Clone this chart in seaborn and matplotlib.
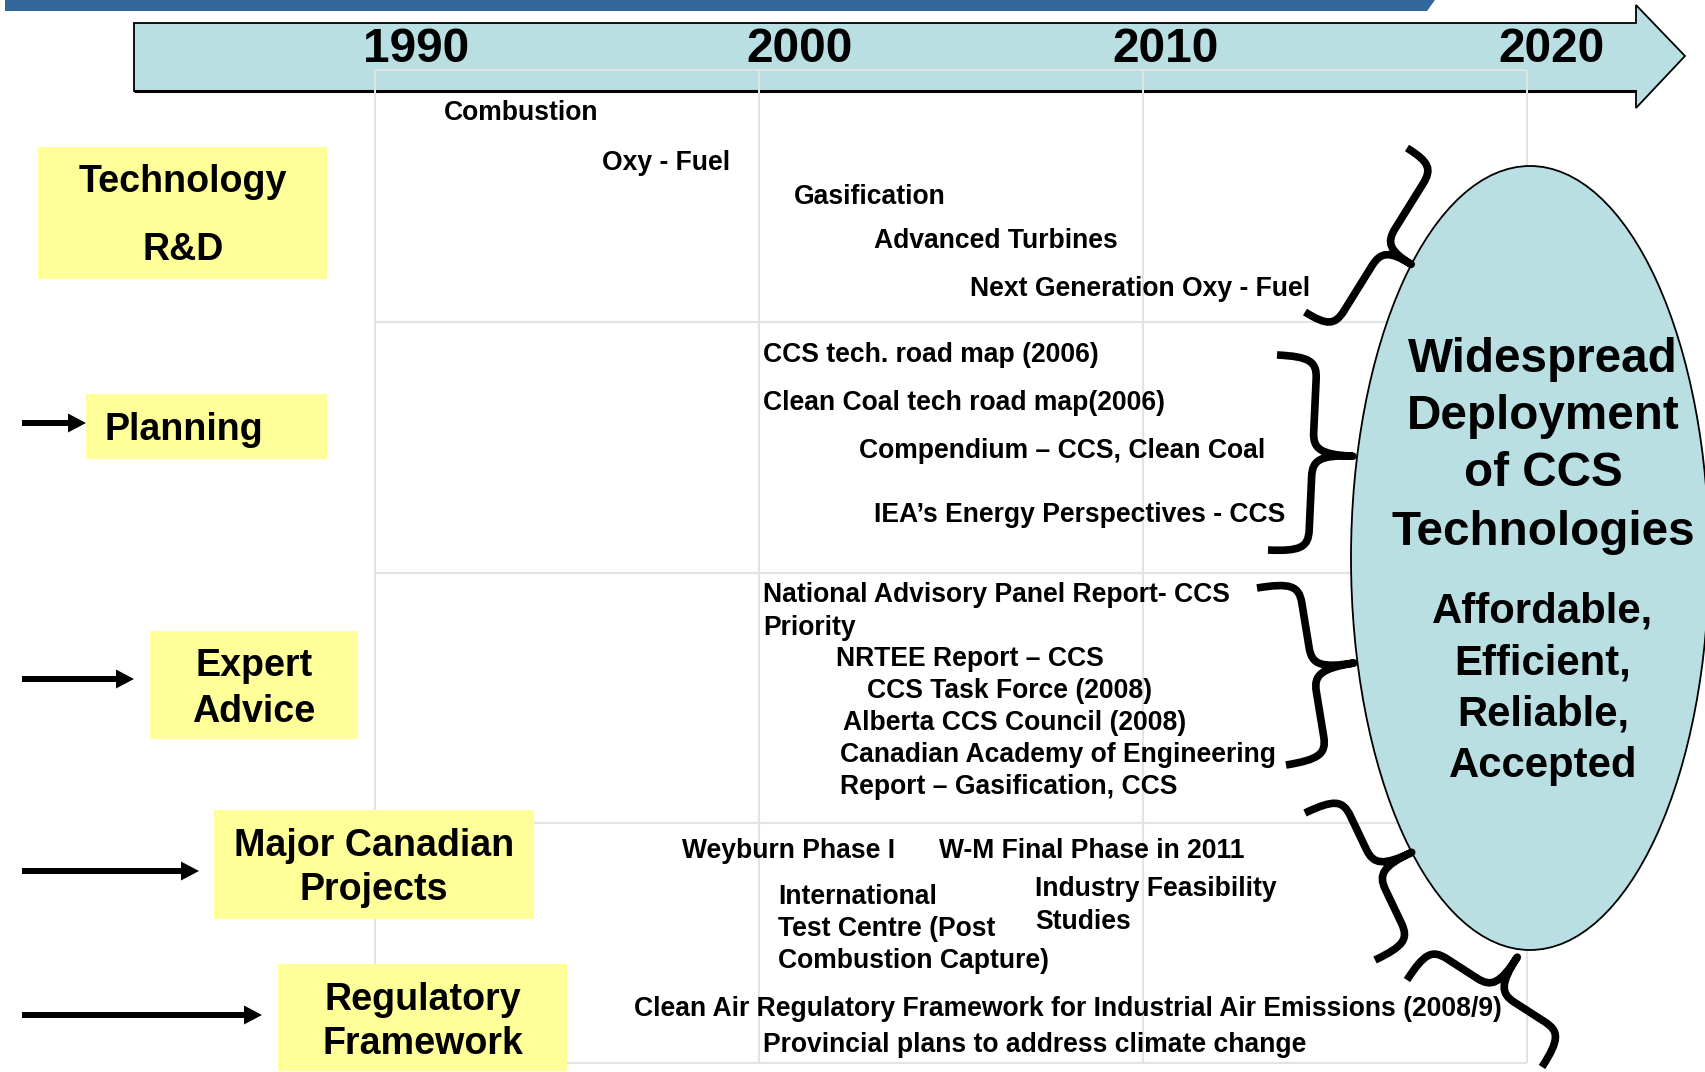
import numpy as np
import matplotlib
matplotlib.use("Agg")
import matplotlib.pyplot as plt
import seaborn as sns
from matplotlib.patches import Rectangle, Ellipse, Polygon, PathPatch, FancyArrow
from matplotlib.path import Path

# ------------------------------------------------------------------ data
timeline_years = [1990, 2000, 2010, 2020]
timeline_labels = ["1990", "2000", "2010", "2020"]

stage_labels = [["Technology", "R&D"], ["Planning"], ["Expert", "Advice"],
                ["Major Canadian", "Projects"], ["Regulatory", "Framework"]]

rd_labels = ["Combustion", "Oxy - Fuel", "Gasification", "Advanced Turbines",
             "Next Generation Oxy - Fuel"]
rd_years = [1991.8, 1995.9, 2000.9, 2003.0, 2005.5]

planning_labels = ["CCS tech. road map (2006)", "Clean Coal tech road map(2006)",
                   "Compendium \u2013 CCS, Clean Coal", "IEA\u2019s Energy Perspectives - CCS"]
planning_years = [2000.1, 2000.1, 2002.6, 2003.0]

advice_labels = ["National Advisory Panel Report- CCS\nPriority", "NRTEE Report \u2013 CCS",
                 "CCS Task Force (2008)", "Alberta CCS Council (2008)",
                 "Canadian Academy of Engineering\nReport \u2013 Gasification, CCS"]
advice_years = [2000.1, 2002.0, 2002.8, 2002.2, 2002.1]

project_labels = ["Weyburn Phase I", "W-M Final Phase in 2011",
                  "International\nTest Centre (Post\nCombustion Capture)",
                  "Industry Feasibility\nStudies"]
project_years = [1998.0, 2004.7, 2000.5, 2007.2]

regulatory_labels = ["Clean Air Regulatory Framework for Industrial Air Emissions (2008/9)",
                     "Provincial plans to address climate change"]
regulatory_years = [1996.75, 2000.1]

goal_title = ["Widespread", "Deployment", "of CCS", "Technologies"]
goal_attributes = ["Affordable,", "Efficient,", "Reliable,", "Accepted"]

# ------------------------------------------------------------------ layout (pixels, y from top)
W, H = 1705, 1072
PX0, PPY = 375.0, 38.4          # pixel of 1990 and pixels per year
DY = 2.5                        # vertical text nudge


def X(px):
    return 1990 + (px - PX0) / PPY


grid_rows = [70, 322, 573, 823, 1063]
header_label_px = [416, 800, 1166, 1551]
header_y = 47

rd_rows = [110, 161, 194, 238, 286]
planning_rows = [353, 401, 449, 513]
advice_rows = [593, 657, 688, 721, 752]
project_rows = [849, 849, 894, 887]
regulatory_rows = [1007, 1042]
line_gap = 32.5

stage_boxes = [(38, 147, 327, 279), (86, 394, 327, 459), (150, 631, 358, 739),
               (214, 810, 534, 919), (278, 964, 567, 1071)]
stage_text_x = [183, 184, 254, 374, 423]
stage_text_rows = [[180, 247], [427], [663, 709], [844, 888], [997, 1042]]
stage_arrows = [None, (22, 86, 423), (22, 134, 679), (22, 199, 871), (22, 262, 1015)]

braces = [((1407, 148), (1305, 312), (1412, 263)),
          ((1277, 355), (1268, 550), (1353, 453)),
          ((1257, 588), (1286, 765), (1354, 663)),
          ((1305, 813), (1375, 960), (1412, 853)),
          ((1407, 980), (1542, 1067), (1517, 957))]

ell_center = (1530, 558)
ell_size = (358, 784)
goal_x = 1543
goal_title_rows = [357, 414, 471, 530]
goal_attr_rows = [609, 661, 712, 763]

TEAL = "#b9dfe3"
YELLOW = "#ffff99"
GRID = "#e3e3e3"
BLUE = "#336699"

# ------------------------------------------------------------------ figure
sns.set_theme(style="white")
plt.rcParams["font.family"] = ["Liberation Sans", "DejaVu Sans"]
plt.rcParams["font.weight"] = "bold"

fig = plt.figure(figsize=(W / 100, H / 100), dpi=100)
fig.patch.set_facecolor("white")
ax = fig.add_axes([0, 0, 1, 1])
ax.set_xlim(X(0), X(W))
ax.set_ylim(H, 0)
ax.axis("off")

# top blue bar
ax.add_patch(Polygon([(X(5), 0), (X(1435), 0), (X(1427), 11), (X(5), 11)],
                     closed=True, facecolor=BLUE, edgecolor="none", zorder=1))

# timeline arrow band
band = [(134, 23), (1636, 23), (1636, 5), (1685, 56), (1636, 108), (1636, 91), (134, 91)]
ax.add_patch(Polygon([(X(px), py) for px, py in band], closed=True,
                     facecolor=TEAL, edgecolor="black", lw=1.3, zorder=1))
ax.plot([X(134), X(1636)], [91, 91], color="black", lw=2.2, zorder=1.1,
        solid_capstyle="butt")

# grid
ax.hlines(grid_rows, timeline_years[0], timeline_years[-1], color=GRID, lw=1.5, zorder=2)
ax.vlines(timeline_years, grid_rows[0], grid_rows[-1], color=GRID, lw=1.5, zorder=2)

for lab, px in zip(timeline_labels, header_label_px):
    ax.text(X(px), header_y + DY, lab, ha="center", va="center", fontsize=34.5,
            fontweight="bold", color="black", zorder=5)

# stage boxes
for (x0, y0, x1, y1), lines, tx, rows, arr in zip(stage_boxes, stage_labels, stage_text_x,
                                                  stage_text_rows, stage_arrows):
    ax.add_patch(Rectangle((X(x0), y0), (x1 - x0) / PPY, y1 - y0, facecolor=YELLOW,
                           edgecolor="none", zorder=3))
    for line, ty in zip(lines, rows):
        ax.text(X(tx), ty + DY, line, ha="center", va="center", fontsize=27.1,
                fontweight="bold", color="black", zorder=5)
    if arr is not None:
        a0, a1, ay = arr
        ax.add_patch(FancyArrow(X(a0), ay, (a1 - a0) / PPY, 0, width=6, head_width=19,
                                head_length=18 / PPY, length_includes_head=True,
                                color="black", lw=0, zorder=4))


# items
def put_items(labels, years, rows):
    for lab, yr, ry in zip(labels, years, rows):
        for i, line in enumerate(lab.split("\n")):
            ax.text(yr, ry + i * line_gap + DY, line, ha="left", va="center",
                    fontsize=19.1, fontweight="bold", color="black", zorder=6)


put_items(rd_labels, rd_years, rd_rows)
put_items(planning_labels, planning_years, planning_rows)
put_items(advice_labels, advice_years, advice_rows)
put_items(project_labels, project_years, project_rows)
put_items(regulatory_labels, regulatory_years, regulatory_rows)

# goal ellipse
ax.add_patch(Ellipse((X(ell_center[0]), ell_center[1]), ell_size[0] / PPY, ell_size[1],
                     facecolor=TEAL, edgecolor="black", lw=1.3, zorder=3))
for line, ty in zip(goal_title, goal_title_rows):
    ax.text(X(goal_x), ty + DY, line, ha="center", va="center", fontsize=34.3,
            fontweight="bold", color="black", zorder=6)
for line, ty in zip(goal_attributes, goal_attr_rows):
    ax.text(X(goal_x), ty + DY, line, ha="center", va="center", fontsize=30.2,
            fontweight="bold", color="black", zorder=6)


# braces
def brace_path(A, B, T, c=22):
    A = np.asarray(A, float); B = np.asarray(B, float); T = np.asarray(T, float)
    d = B - A
    L = np.hypot(*d)
    u = d / L
    n = np.array([-u[1], u[0]])
    mid = (A + B) / 2
    w = float(np.dot(T - mid, n))
    if w < 0:
        n = -n
        w = -w
    h = w / 2

    def P(t, s):
        p = A + s * u + t * n
        return (X(p[0]), p[1])

    verts = [P(0, 0),
             P(0.8 * h, 0), P(h, 0.2 * c), P(h, c),
             P(h, L / 2 - c),
             P(h, L / 2 - 0.25 * c), P(1.2 * h, L / 2), P(w, L / 2),
             P(1.2 * h, L / 2), P(h, L / 2 + 0.25 * c), P(h, L / 2 + c),
             P(h, L - c),
             P(h, L - 0.2 * c), P(0.8 * h, L), P(0, L)]
    codes = [Path.MOVETO, Path.CURVE4, Path.CURVE4, Path.CURVE4, Path.LINETO,
             Path.CURVE4, Path.CURVE4, Path.CURVE4,
             Path.CURVE4, Path.CURVE4, Path.CURVE4, Path.LINETO,
             Path.CURVE4, Path.CURVE4, Path.CURVE4]
    return Path(verts, codes)


for A, B, T in braces:
    ax.add_patch(PathPatch(brace_path(A, B, T), facecolor="none", edgecolor="black",
                           lw=5.5, joinstyle="round", capstyle="butt", zorder=4))

fig.savefig("out.png", dpi=100, facecolor="white")
